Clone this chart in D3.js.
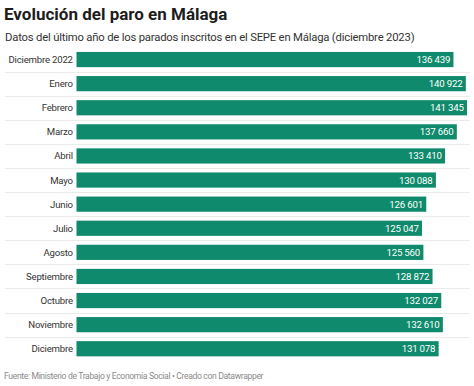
<!DOCTYPE html>
<html>
<head>
<meta charset="utf-8">
<script src="https://cdn.jsdelivr.net/npm/d3@7"></script>
<style>
  body { margin: 0; background: #fff; font-family: Roboto, "Noto Sans", sans-serif; }
</style>
</head>
<body>
<div id="myChart"></div>
<script>
// data
const months = ["Diciembre 2022", "Enero", "Febrero", "Marzo", "Abril", "Mayo", "Junio",
  "Julio", "Agosto", "Septiembre", "Octubre", "Noviembre", "Diciembre"];
const parados = [136439, 140922, 141345, 137660, 133410, 130088, 126601,
  125047, 125560, 128872, 132027, 132610, 131078];

const W = 474, H = 386;
const margin = {top: 52, left: 76.5, right: 7};

const svg = d3.select("#myChart")
  .append("svg")
    .attr("width", W)
    .attr("height", H);

svg.append("text")
  .attr("x", 4).attr("y", 20)
  .attr("font-size", "17px").attr("font-weight", "700")
  .attr("fill", "#1d1d1d")
  .text("Evolución del paro en Málaga");

svg.append("text")
  .attr("x", 5).attr("y", 40.5)
  .attr("font-size", "11.3px")
  .attr("letter-spacing", "-0.2px")
  .attr("fill", "#333")
  .text("Datos del último año de los parados inscritos en el SEPE en Málaga (diciembre 2023)");

const x = d3.scaleLinear()
  .domain([0, d3.max(parados)])
  .range([margin.left, 467]);

const step = 24.1;
const y = d3.scaleBand()
  .domain(months)
  .range([margin.top - 4.5, margin.top - 4.5 + step * months.length])
  .paddingInner(0.37)
  .paddingOuter(0.185);

const fmt = v => d3.format(",")(v).replace(",", " ");

// separators between rows
svg.selectAll("line.sep")
  .data(months.slice(1))
  .join("line")
    .attr("class", "sep")
    .attr("x1", 5).attr("x2", 470)
    .attr("y1", d => Math.round(y(d) - y.step() * y.paddingInner() / 2) + 0.5)
    .attr("y2", d => Math.round(y(d) - y.step() * y.paddingInner() / 2) + 0.5)
    .attr("stroke", "#ebebeb");

svg.selectAll("rect")
  .data(parados)
  .join("rect")
    .attr("x", x(0))
    .attr("y", (d, i) => y(months[i]))
    .attr("width", d => x(d) - x(0))
    .attr("height", y.bandwidth())
    .attr("fill", "#0f8a6c");

svg.selectAll("text.lab")
  .data(months)
  .join("text")
    .attr("class", "lab")
    .attr("x", 72.8)
    .attr("y", d => y(d) + y.bandwidth() / 2)
    .attr("dy", "0.36em")
    .attr("text-anchor", "end")
    .attr("font-size", "9.6px")
    .attr("letter-spacing", "-0.2px")
    .attr("fill", "#333")
    .text(d => d);

svg.selectAll("text.val")
  .data(parados)
  .join("text")
    .attr("class", "val")
    .attr("x", d => x(d) - 3.3)
    .attr("y", (d, i) => y(months[i]) + y.bandwidth() / 2)
    .attr("dy", "0.36em")
    .attr("text-anchor", "end")
    .attr("font-size", "9.7px")
    .attr("letter-spacing", "-0.2px")
    .attr("fill", "#fff")
    .text(d => fmt(d));

svg.append("text")
  .attr("x", 4).attr("y", 379)
  .attr("font-size", "8.6px")
  .attr("letter-spacing", "-0.35px")
  .attr("fill", "#8a8a8a")
  .text("Fuente: Ministerio de Trabajo y Economía Social • Creado con Datawrapper");
</script>
</body>
</html>
